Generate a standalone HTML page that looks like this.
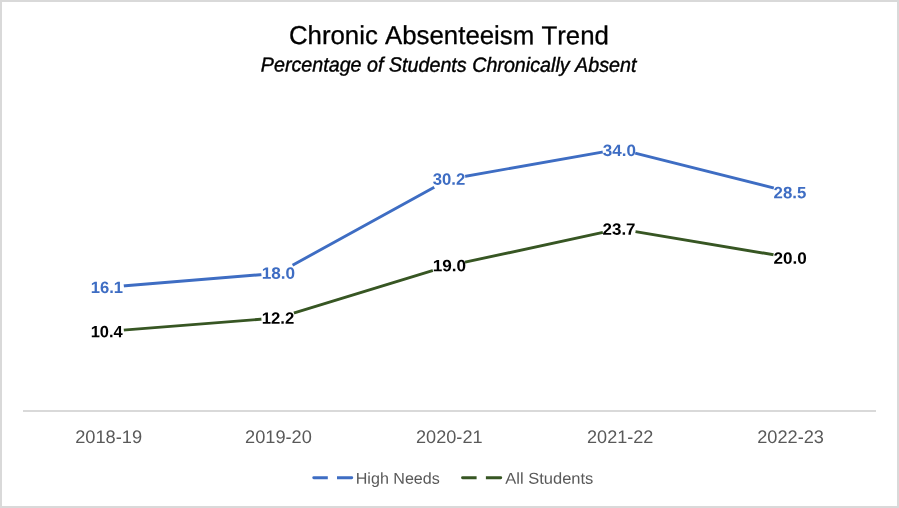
<!DOCTYPE html>
<html lang="en">
<head>
<meta charset="utf-8">
<title>Chronic Absenteeism Trend</title>
<style>
html,body{margin:0;padding:0;background:#fff;}
body{width:899px;height:508px;overflow:hidden;}
svg{display:block;font-family:"Liberation Sans",sans-serif;font-kerning:none;text-rendering:geometricPrecision;}
.t{font-size:25.9px;fill:#000;stroke:#000;stroke-width:0.3px;}
.s{font-size:20.5px;font-style:italic;fill:#000;stroke:#000;stroke-width:0.4px;}
.ax{font-size:18.2px;fill:#595959;}
.lg{font-size:15.8px;fill:#595959;}
.dl{font-size:16.4px;font-weight:bold;}
</style>
</head>
<body>
<svg width="899" height="508" viewBox="0 0 899 508" role="img" aria-label="Chronic Absenteeism Trend line chart">
<rect x="0" y="0" width="899" height="508" fill="#fff"/>
<rect x="1" y="1" width="897" height="506" fill="none" stroke="#D9D9D9" stroke-width="2"/>
<text class="t" transform="matrix(0.9971 0.0006 0 1 288.89 44.00)">Chronic Absenteeism Trend</text>
<text class="s" transform="matrix(0.9610 0.0006 0 1 260.79 71.54)">Percentage of Students Chronically Absent</text>
<line x1="23" y1="411" x2="876" y2="411" stroke="#D9D9D9" stroke-width="2"/>
<polyline points="107.2,287.3 278.0,273.2 448.8,179.2 619.1,149.1 789.9,192.1" fill="none" stroke="#3E6DC3" stroke-width="2.9" stroke-linecap="round" stroke-linejoin="round"/>
<polyline points="107.2,331.4 278.0,317.9 448.8,265.7 619.1,228.9 789.9,257.5" fill="none" stroke="#375623" stroke-width="2.9" stroke-linecap="round" stroke-linejoin="round"/>
<g fill="#fff"><circle cx="107.25" cy="287.31" r="16.7"/><circle cx="278.00" cy="273.24" r="16.7"/><circle cx="448.75" cy="179.22" r="16.7"/><circle cx="619.10" cy="149.07" r="16.7"/><circle cx="789.90" cy="192.14" r="16.7"/><circle cx="107.25" cy="331.43" r="16.7"/><circle cx="278.00" cy="317.93" r="16.7"/><circle cx="448.75" cy="265.71" r="16.7"/><circle cx="619.10" cy="228.91" r="16.7"/><circle cx="789.90" cy="257.49" r="16.7"/></g>
<text class="dl" transform="matrix(1.0138 0.0006 0 1 90.70 293.04)" fill="#3E6DC3">16.1</text>
<text class="dl" transform="matrix(1.0475 0.0006 0 1 261.67 278.74)" fill="#3E6DC3">18.0</text>
<text class="dl" transform="matrix(1.0183 0.0006 0 1 432.77 184.84)" fill="#3E6DC3">30.2</text>
<text class="dl" transform="matrix(1.0382 0.0006 0 1 602.76 155.94)" fill="#3E6DC3">34.0</text>
<text class="dl" transform="matrix(1.0245 0.0006 0 1 773.57 198.24)" fill="#3E6DC3">28.5</text>
<text class="dl" transform="matrix(1.0049 0.0006 0 1 90.71 337.14)" fill="#000">10.4</text>
<text class="dl" transform="matrix(1.0205 0.0006 0 1 261.70 323.84)" fill="#000">12.2</text>
<text class="dl" transform="matrix(1.0475 0.0006 0 1 432.67 271.14)" fill="#000">19.0</text>
<text class="dl" transform="matrix(1.0333 0.0006 0 1 602.56 234.84)" fill="#000">23.7</text>
<text class="dl" transform="matrix(1.0447 0.0006 0 1 773.56 263.74)" fill="#000">20.0</text>
<text class="ax" transform="matrix(1.0036 0.0006 0 1 75.13 442.98)">2018-19</text>
<text class="ax" transform="matrix(1.0013 0.0006 0 1 245.03 442.98)">2019-20</text>
<text class="ax" transform="matrix(0.9963 0.0006 0 1 416.04 442.98)">2020-21</text>
<text class="ax" transform="matrix(0.9937 0.0006 0 1 587.04 442.98)">2021-22</text>
<text class="ax" transform="matrix(0.9996 0.0006 0 1 757.24 442.98)">2022-23</text>
<line x1="313.75" y1="477.8" x2="351.75" y2="477.8" stroke="#3E6DC3" stroke-width="2.9" stroke-linecap="round"/><rect x="327.8" y="474.8" width="9.20" height="6" fill="#fff"/>
<text class="lg" transform="matrix(1.0187 0.0006 0 1 355.73 483.77)">High Needs</text>
<line x1="462.55" y1="477.8" x2="500.75" y2="477.8" stroke="#375623" stroke-width="2.9" stroke-linecap="round"/><rect x="476.6" y="474.8" width="9.30" height="6" fill="#fff"/>
<text class="lg" transform="matrix(1.0452 0.0006 0 1 505.27 483.77)">All Students</text>
</svg>
</body>
</html>
